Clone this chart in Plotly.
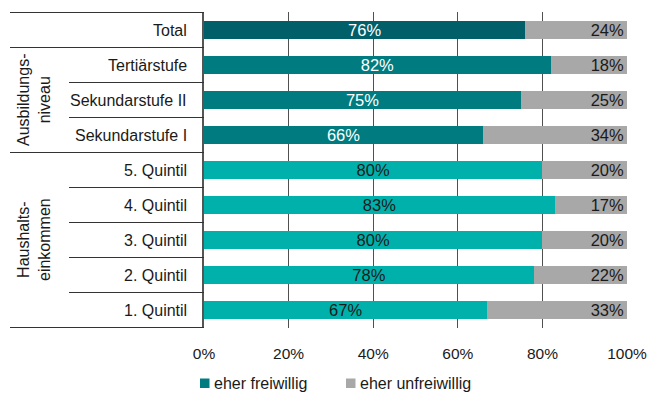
import plotly.graph_objects as go

# Survey shares: voluntary vs. involuntary, by group
categories = ["Total", "Tertiärstufe", "Sekundarstufe II", "Sekundarstufe I",
              "5. Quintil", "4. Quintil", "3. Quintil", "2. Quintil", "1. Quintil"]
freiwillig = [76, 82, 75, 66, 80, 83, 80, 78, 67]
unfreiwillig = [24, 18, 25, 34, 20, 17, 20, 22, 33]
groups = ["total", "bildung", "bildung", "bildung",
          "einkommen", "einkommen", "einkommen", "einkommen", "einkommen"]
group_titles = {"bildung": "Ausbildungs-<br>niveau", "einkommen": "Haushalts-<br>einkommen"}
series_names = ["eher freiwillig", "eher unfreiwillig"]
x_ticks = [0, 20, 40, 60, 80, 100]

bar_colors = {"total": "#005F69", "bildung": "#007C80", "einkommen": "#00B0AA"}
label_colors = {"total": "#FFFFFF", "bildung": "#FFFFFF", "einkommen": "#1A1A1A"}
grey = "#A8A8A8"
font = "Liberation Sans, Arial, sans-serif"
ink = "#1A1A1A"

W, H = 649, 393
L, R, T, B = 204, 22, 12, 65
plot_w = W - L - R
plot_h = H - T - B


def px_x(px):
    """Horizontal pixel position -> paper coordinate."""
    return (px - L) / plot_w


def px_y(py):
    """Vertical pixel position -> paper coordinate."""
    return (H - B - py) / plot_h


fig = go.Figure()
fig.add_trace(go.Bar(
    y=categories, x=freiwillig, orientation="h", name=series_names[0],
    marker=dict(color=[bar_colors[g] for g in groups], line=dict(width=0)),
    text=[f"{v}%" for v in freiwillig], textposition="inside",
    insidetextanchor="middle", constraintext="none",
    textfont=dict(color=[label_colors[g] for g in groups], size=16.5, family=font),
    showlegend=False, hoverinfo="skip",
))
fig.add_trace(go.Bar(
    y=categories, x=unfreiwillig, orientation="h", name=series_names[1],
    marker=dict(color=grey, line=dict(width=0)),
    text=[f"{v}%" for v in unfreiwillig], textposition="inside",
    insidetextanchor="end", constraintext="none",
    textfont=dict(color=ink, size=16.5, family=font),
    showlegend=False, hoverinfo="skip",
))

n = len(categories)
shapes = []
line_style = dict(color="#333333", width=1)
x_far = px_x(10)    # left edge of the label table
x_near = px_x(69)   # left edge of the sub-rows inside a group
for i in range(n + 1):
    b = i - 0.5
    if i == 0 or i == n:
        x0 = x_far
    else:
        above, below = groups[i - 1], groups[i]
        x0 = x_near if above == below and above != "total" else x_far
    shapes.append(dict(type="line", xref="paper", yref="y", x0=x0, x1=0,
                       y0=b, y1=b, line=line_style, layer="above"))

annotations = []
for g, title in group_titles.items():
    idx = [i for i, gg in enumerate(groups) if gg == g]
    mid = (idx[0] + idx[-1]) / 2
    annotations.append(dict(text=title, xref="paper", yref="y", x=px_x(34), y=mid,
                            xanchor="center", yanchor="middle",
                            textangle=-90, showarrow=False, align="center",
                            font=dict(size=16, color=ink, family=font)))
for c in categories:
    annotations.append(dict(text=c, xref="paper", yref="y", x=px_x(189), y=c,
                            xanchor="right", yanchor="middle", showarrow=False,
                            font=dict(size=16, color=ink, family=font)))

# legend row below the axis
legend_items = [(series_names[0], bar_colors["bildung"], 200),
                (series_names[1], grey, 346)]
for name, col, x0 in legend_items:
    shapes.append(dict(type="rect", xref="paper", yref="paper",
                       x0=px_x(x0), x1=px_x(x0 + 9.5), y0=px_y(388), y1=px_y(378.5),
                       fillcolor=col, line=dict(width=0)))
    annotations.append(dict(text=name, xref="paper", yref="paper",
                            x=px_x(x0 + 12), y=px_y(383), xanchor="left", yanchor="middle",
                            showarrow=False, font=dict(size=16, color=ink, family=font)))

fig.update_layout(
    width=W, height=H,
    margin=dict(l=L, r=R, t=T, b=B, autoexpand=False),
    barmode="stack", bargap=0.5, showlegend=False,
    plot_bgcolor="white", paper_bgcolor="white",
    font=dict(family=font, size=15, color=ink),
    shapes=shapes, annotations=annotations,
    xaxis=dict(range=[0, 100], tickvals=x_ticks, ticktext=[f"{v}%" for v in x_ticks],
               showgrid=True, gridcolor="#505050", gridwidth=1,
               zeroline=False, showline=False, ticks="", ticklabelstandoff=14,
               automargin=False,
               tickfont=dict(size=15.5, color=ink, family=font), fixedrange=True),
    yaxis=dict(categoryorder="array", categoryarray=categories, autorange="reversed",
               showticklabels=False, showgrid=False, zeroline=False, automargin=False,
               showline=True, linecolor="#555555", linewidth=2, ticks="",
               fixedrange=True),
)

fig.write_html("out.html")
